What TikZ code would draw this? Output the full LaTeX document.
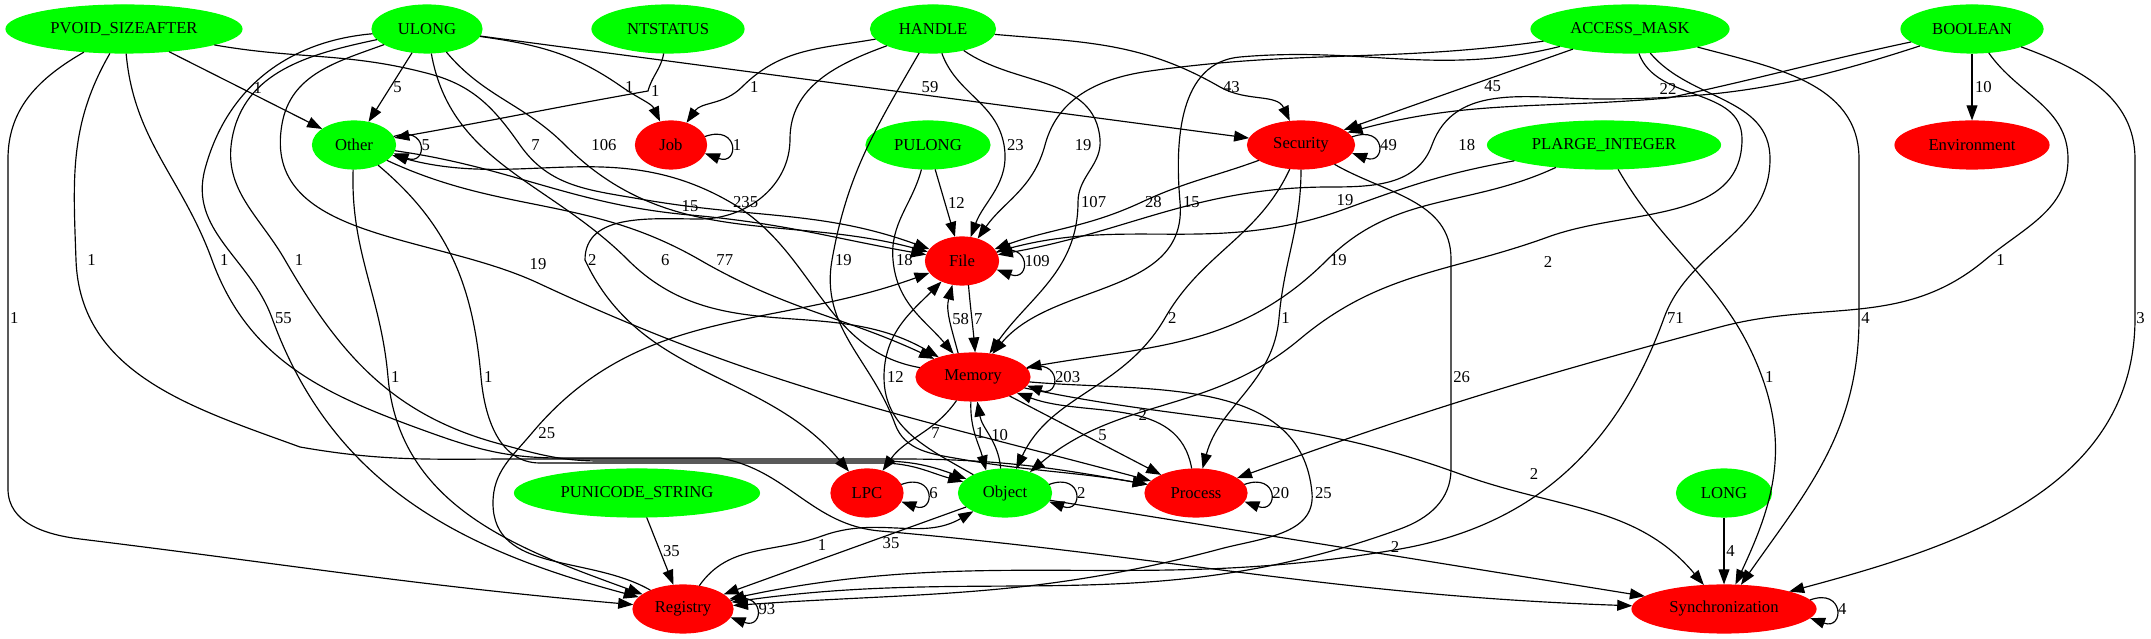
\documentclass[tikz,border=0pt]{standalone}
\usepackage{fontspec}
\setmainfont{Liberation Serif}
\usetikzlibrary{shapes.geometric,arrows.meta}

\begin{document}
\begin{tikzpicture}[x=0.6pt, y=0.6pt, every node/.style={
    font=\fontsize{10}{12}\selectfont,
    %draw,
  },
  typ/.style={ellipse, draw=green, fill=green, minimum height=28.8pt, inner sep=0pt},
  cat/.style={ellipse, draw=red, fill=red, minimum height=28.8pt, inner sep=0pt},
  lbl/.style={inner sep=1.5pt},
  >={Triangle[length=9pt,width=6.5pt]}, line width=0.7pt]

  \useasboundingbox (0,0) rectangle (2151,639);

  \node[typ, minimum width=141.6pt] (pvoid) at (124,610) {PVOID\_SIZEAFTER};
  \node[typ, minimum width=66pt] (ulong) at (427,610) {ULONG};
  \node[typ, minimum width=91.2pt] (ntstatus) at (668,610) {NTSTATUS};
  \node[typ, minimum width=75pt] (handle) at (933,610) {HANDLE};
  \node[typ, minimum width=118.8pt] (accessmask) at (1630,610) {ACCESS\_MASK};
  \node[typ, minimum width=85.2pt] (boolean) at (1972,610) {BOOLEAN};

  \node[typ, minimum width=49.8pt] (other) at (354,494) {Other};
  \node[cat, minimum width=42.6pt] (job) at (671,494) {Job};
  \node[typ, minimum width=74.4pt] (pulong) at (928,494) {PULONG};
  \node[cat, minimum width=64.2pt] (security) at (1301,494) {Security};
  \node[typ, minimum width=139.8pt] (plarge) at (1604,494) {PLARGE\_INTEGER};
  \node[cat, minimum width=92.4pt] (environment) at (1972,494) {Environment};

  \node[cat, minimum width=43.8pt] (file) at (962,378) {File};
  \node[cat, minimum width=68.4pt] (memory) at (973,262) {Memory};

  \node[typ, minimum width=147pt] (punicode) at (637,146) {PUNICODE\_STRING};
  \node[cat, minimum width=43.2pt] (lpc) at (867,146) {LPC};
  \node[typ, minimum width=55.8pt] (object) at (1005,146) {Object};
  \node[cat, minimum width=61.2pt] (process) at (1196,146) {Process};
  \node[typ, minimum width=57pt] (long) at (1724,146) {LONG};

  \node[cat, minimum width=60pt] (registry) at (683,30) {Registry};
  \node[cat, minimum width=110.4pt] (sync) at (1724,30) {Synchronization};

  % loops
  \draw[->] (other.12) .. controls +(20:22pt) and +(-20:22pt) .. (other.-12) node[lbl,midway,right,inner sep=1pt]{5};
  \draw[->] (job.14) .. controls +(20:22pt) and +(-20:22pt) .. (job.-14) node[lbl,midway,right,inner sep=1pt]{1};
  \draw[->] (security.9) .. controls +(20:22pt) and +(-20:22pt) .. (security.-9) node[lbl,midway,right,inner sep=1pt]{49};
  \draw[->] (file.14) .. controls +(20:22pt) and +(-20:22pt) .. (file.-14) node[lbl,midway,right,inner sep=1pt]{109};
  \draw[->] (memory.9) .. controls +(20:22pt) and +(-20:22pt) .. (memory.-9) node[lbl,midway,right,inner sep=1pt]{203};
  \draw[->] (lpc.14) .. controls +(20:22pt) and +(-20:22pt) .. (lpc.-14) node[lbl,midway,right,inner sep=1pt]{6};
  \draw[->] (object.11) .. controls +(20:22pt) and +(-20:22pt) .. (object.-11) node[lbl,midway,right,inner sep=1pt]{2};
  \draw[->] (process.10) .. controls +(20:22pt) and +(-20:22pt) .. (process.-10) node[lbl,midway,right,inner sep=1pt]{20};
  \draw[->] (registry.10) .. controls +(20:22pt) and +(-20:22pt) .. (registry.-10) node[lbl,midway,right,inner sep=1pt]{93};
  \draw[->] (sync.6) .. controls +(20:22pt) and +(-20:22pt) .. (sync.-6) node[lbl,midway,right,inner sep=1pt]{4};

  % PVOID_SIZEAFTER
  \draw[->] (pvoid) -- node[lbl,pos=.58,above]{1} (other);
  \draw[->] (pvoid) to[out=-10,in=165] (430,565) to[out=-15,in=125] (520,494) node[lbl,right=5pt]{7} to[out=-55,in=170] (640,440) to[out=-10,in=160] (file);
  \draw[->] (pvoid) to[out=-150,in=90] (8,480) -- (8,321) node[lbl,right,inner sep=1pt]{1} -- (8,150) to[out=-90,in=173] (80,100) to[out=-7,in=175] (registry);
  \draw[->] (pvoid) to[out=-120,in=92] (76,379) node[lbl,right=5pt]{1} to[out=-88,in=160] (300,192) to[out=-10,in=180] (520,180) -- (900,180) to[out=0,in=170] (process);
  \draw[->] (pvoid) to[out=-85,in=110] (212,379) node[lbl,right=3pt]{1} to[out=-70,in=160] (420,210) to[out=-20,in=180] (560,181) -- (720,181) to[out=-10,in=175] (880,108) to[out=-5,in=178] (sync);

  % ULONG
  \draw[->] (ulong) -- node[lbl,pos=.5,right]{5} (other);
  \draw[->] (ulong) to[out=-8,in=145] (622,552) node[lbl,right]{1} to[out=-35,in=115] (job);
  \draw[->] (ulong) -- node[lbl,pos=.585,above]{59} (security);
  \draw[->] (ulong) to[out=-50,in=135] (565,494) node[lbl,right=14pt]{106} to[out=-45,in=165] (file);
  \draw[->] (ulong) to[out=-80,in=135] (628,379) node[lbl,right=18pt]{6} to[out=-45,in=150] (memory);
  \draw[->] (ulong) to[out=185,in=75] (205,470) to[out=-105,in=110] (272,321) node[lbl,right]{55} to[out=-70,in=165] (registry);
  \draw[->] (ulong) to[out=192,in=80] (232,500) to[out=-100,in=120] (285,379) node[lbl,right=4pt]{1} to[out=-60,in=165] (500,195) to[out=-15,in=180] (600,178) -- (880,178) to[out=0,in=160] (object);
  \draw[->] (ulong) to[out=200,in=80] (282,515) to[out=-100,in=155] (538,356) node[lbl,above=6pt]{19} to[out=-25,in=165] (process);

  % NTSTATUS, HANDLE
  \draw[->] (ntstatus) to[out=-100,in=75] (648,548) node[lbl,right]{1} to[out=-170,in=10] (other);
  \draw[->] (handle) to[out=190,in=45] (742,552) node[lbl,right=3pt]{1} to[out=-135,in=55] (job);
  \draw[->] (handle) to[out=-5,in=150] (1220,552) node[lbl,right]{43} to[out=-30,in=115] (security);
  \draw[->] (handle) to[out=-70,in=100] (1004,494) node[lbl,right]{23} to[out=-80,in=70] (file);
  \draw[->] (handle) to[out=-35,in=95] (1100,500) to[out=-85,in=90] (1078,437) node[lbl,right]{107} to[out=-90,in=55] (memory);
  \draw[->] (handle) to[out=200,in=90] (790,500) to[out=-90,in=0] (700,420) to[out=180,in=90] (585,379) node[lbl,right]{2} to[out=-65,in=130] (lpc);
  \draw[->] (handle) to[out=240,in=80] (832,379) node[lbl,right]{19} to[out=-100,in=110] (895,215) to[out=-70,in=170] (960,180) to[out=-10,in=170] (process);

  % ACCESS_MASK
  \draw[->] (accessmask) -- node[lbl,pos=.35,below]{45} (security);
  \draw[->] (accessmask) to[out=188,in=8] (1150,568) to[out=188,in=75] (1045,494) node[lbl,right=16pt]{19} to[out=-105,in=55] (file);
  \draw[->] (accessmask) to[out=194,in=5] (1240,582) to[out=185,in=95] (1180,437) node[lbl,right]{15} to[out=-85,in=50] (memory);
  \draw[->] (accessmask) to[out=-70,in=90] (1742,500) to[out=-90,in=20] (1548,402) node[lbl,below=10pt]{2} to[out=200,in=40] (1300,300) to[out=220,in=40] (object);
  \draw[->] (accessmask) to[out=-50,in=90] (1770,480) to[out=-90,in=70] (1664,321) node[lbl,right]{71} to[out=-110,in=10] (1400,90) to[out=190,in=12] (registry);
  \draw[->] (accessmask) to[out=-15,in=90] (1859,480) -- (1859,321) node[lbl,right,inner sep=1pt]{4} to[out=-90,in=55] (sync);

  % BOOLEAN
  \draw[->] (boolean) to[out=192,in=12] (1668,541) node[lbl,above]{22} to[out=185,in=15] (security);
  \draw[->] (boolean) -- node[lbl,right]{10} (environment);
  \draw[->] (boolean) to[out=198,in=0] (1600,540) to[out=180,in=70] (1432,494) node[lbl,right=14pt]{18} to[out=-110,in=0] (1330,452) to[out=180,in=10] (file);
  \draw[->] (boolean) to[out=-55,in=90] (2068,480) to[out=-90,in=40] (1985,379) node[lbl,right=5pt]{1} to[out=220,in=15] (1720,312) to[out=195,in=20] (process);
  \draw[->] (boolean) to[out=-20,in=90] (2135,480) -- (2135,321) node[lbl,right,inner sep=.5pt]{3} to[out=-90,in=15] (sync);

  % second row
  \draw[->] (other) to[out=-8,in=175] (690,424) node[lbl,above]{15} to[out=-5,in=170] (file);
  \draw[->] (other) to[out=-25,in=150] (700,379) node[lbl,right=8pt]{77} to[out=-30,in=155] (memory);
  \draw[->] (other) to[out=-92,in=95] (388,262) node[lbl,right]{1} to[out=-85,in=160] (registry);
  \draw[->] (other) to[out=-40,in=95] (481,262) node[lbl,right]{1} to[out=-85,in=180] (540,176) -- (880,176) to[out=0,in=165] (object);
  \draw[->] (pulong) -- node[lbl,right]{12} (file);
  \draw[->] (pulong) to[out=-105,in=95] (893,379) node[lbl,right]{18} to[out=-85,in=130] (memory);
  \draw[->] (security) to[out=200,in=25] (1142,437) node[lbl,right]{28} to[out=205,in=20] (file);
  \draw[->] (security) to[out=-115,in=60] (1165,321) node[lbl,right]{2} to[out=-120,in=65] (object);
  \draw[->] (security) to[out=-90,in=85] (1279,321) node[lbl,right,inner sep=1pt]{1} to[out=-95,in=75] (process);
  \draw[->] (security) to[out=-30,in=90] (1451,380) -- (1451,262) node[lbl,right,inner sep=1pt]{26} -- (1451,170) to[out=-90,in=20] (1400,110) to[out=200,in=8] (registry);
  \draw[->] (plarge) to[out=190,in=20] (1345,430) node[lbl,above]{19} to[out=200,in=15] (file);
  \draw[->] (plarge) to[out=205,in=45] (1327,379) node[lbl,right]{19} to[out=-135,in=10] (memory);
  \draw[->] (plarge) to[out=-60,in=110] (1762,262) node[lbl,right]{1} to[out=-70,in=65] (sync);

  % File and Memory
  \draw[->] (file.-75) to[out=-85,in=95] node[lbl,right,inner sep=1pt]{7} (memory.85);
  \draw[->] (memory.122) to[out=105,in=-105] node[lbl,right,inner sep=1pt]{58} (file.-112);
  \draw[->] (memory) to[out=170,in=-30] (730,437) node[lbl,right]{235} to[out=150,in=-15] (other);
  \draw[->] (memory) to[out=-125,in=55] node[lbl,pos=.45,right=3pt]{7} (lpc);
  \draw[->] (memory.-95) to[out=-92,in=105] node[lbl,right,inner sep=.5pt,pos=.45]{1} (object.130);
  \draw[->] (object.100) to[out=95,in=-80] node[lbl,right,inner sep=.5pt]{10} (memory.-80);
  \draw[->] (memory) -- node[lbl,pos=.5,right=6pt]{5} (process);
  \draw[->] (process) to[out=100,in=-20] node[lbl,pos=.45,right]{2} (memory);
  \draw[->] (memory) to[out=-5,in=95] (1312,146) node[lbl,right]{25} to[out=-85,in=15] (1220,90) to[out=195,in=4] (registry);
  \draw[->] (memory) to[out=-12,in=160] (1460,165) node[lbl,right=40pt]{2} to[out=-20,in=130] (sync);

  % bottom rows
  \draw[->] (object) to[out=150,in=-90] (884,262) node[lbl,right]{12} to[out=90,in=-135] (file);
  \draw[->] (object) -- node[lbl,pos=.31,below]{35} (registry);
  \draw[->] (object) -- node[lbl,pos=.58,above]{2} (sync);
  \draw[->] (registry) to[out=150,in=-90] (493,136) to[out=90,in=-130] (532,206) node[lbl,right=2pt]{25} to[out=50,in=200] (file);
  \draw[->] (registry) to[out=55,in=200] (822,103) node[lbl,below]{1} to[out=20,in=210] (object);
  \draw[->] (punicode) -- node[lbl,right]{35} (registry);
  \draw[->] (long) -- node[lbl,right,inner sep=1pt]{4} (sync);

\end{tikzpicture}
\end{document}
